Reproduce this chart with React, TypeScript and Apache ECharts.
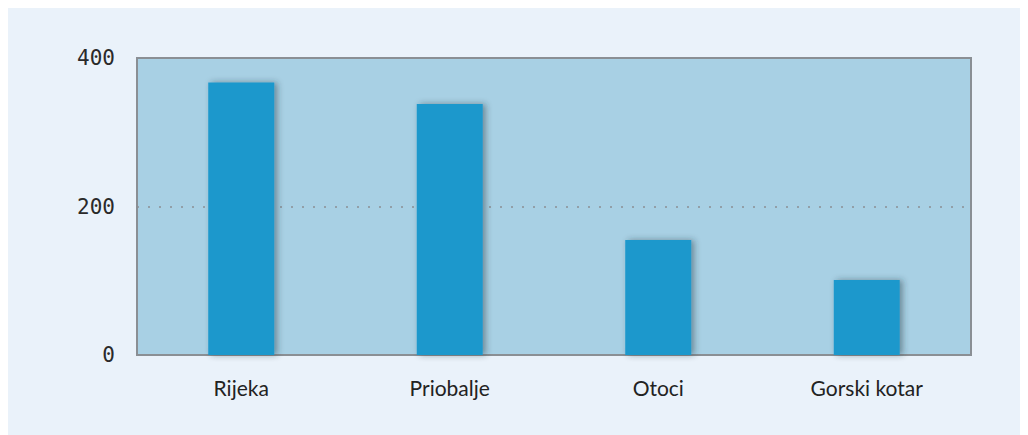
import React, { useEffect, useRef } from "react";
import * as echarts from "echarts";

const categories = ["Rijeka", "Priobalje", "Otoci", "Gorski kotar"];
const values = [367, 338, 155, 101];
const yTicks = [0, 200, 400];

export default function App() {
  const ref = useRef<HTMLDivElement>(null);
  useEffect(() => {
    if (!ref.current) return;
    const chart = echarts.init(ref.current, null, { renderer: "svg" });
    chart.setOption({
      animation: false,
      backgroundColor: "#eaf2fa",
      grid: {
        left: 131,
        right: 57,
        top: 50,
        bottom: 80,
        show: true,
        backgroundColor: "#a8d0e4",
        borderColor: "#8a8f94",
        borderWidth: 2,
      },
      xAxis: {
        type: "category",
        data: categories,
        axisLine: { show: false },
        axisTick: { show: false },
        axisLabel: {
          color: "#222",
          fontFamily: "Lato",
          fontSize: 21,
          margin: 22,
        },
      },
      yAxis: {
        type: "value",
        min: yTicks[0],
        max: yTicks[yTicks.length - 1],
        interval: 200,
        axisLine: { show: false },
        axisTick: { show: false },
        axisLabel: {
          color: "#2a2a2a",
          fontFamily: "DejaVu Sans Mono",
          fontSize: 21,
          margin: 22,
        },
        splitLine: {
          show: true,
          lineStyle: {
            color: ["transparent", "#8a8f94", "transparent"],
            type: [2, 9],
            width: 1.5,
          },
        },
      },
      series: [
        {
          type: "bar",
          data: values,
          barWidth: 66,
          itemStyle: {
            color: "#1e98cc",
            shadowColor: "rgba(40,50,60,0.45)",
            shadowBlur: 6,
            shadowOffsetX: 3,
            shadowOffsetY: 0,
          },
        },
      ],
    });
    return () => chart.dispose();
  }, []);
  return <div ref={ref} style={{ width: 1022, height: 427, marginLeft: -2 }} />;
}
